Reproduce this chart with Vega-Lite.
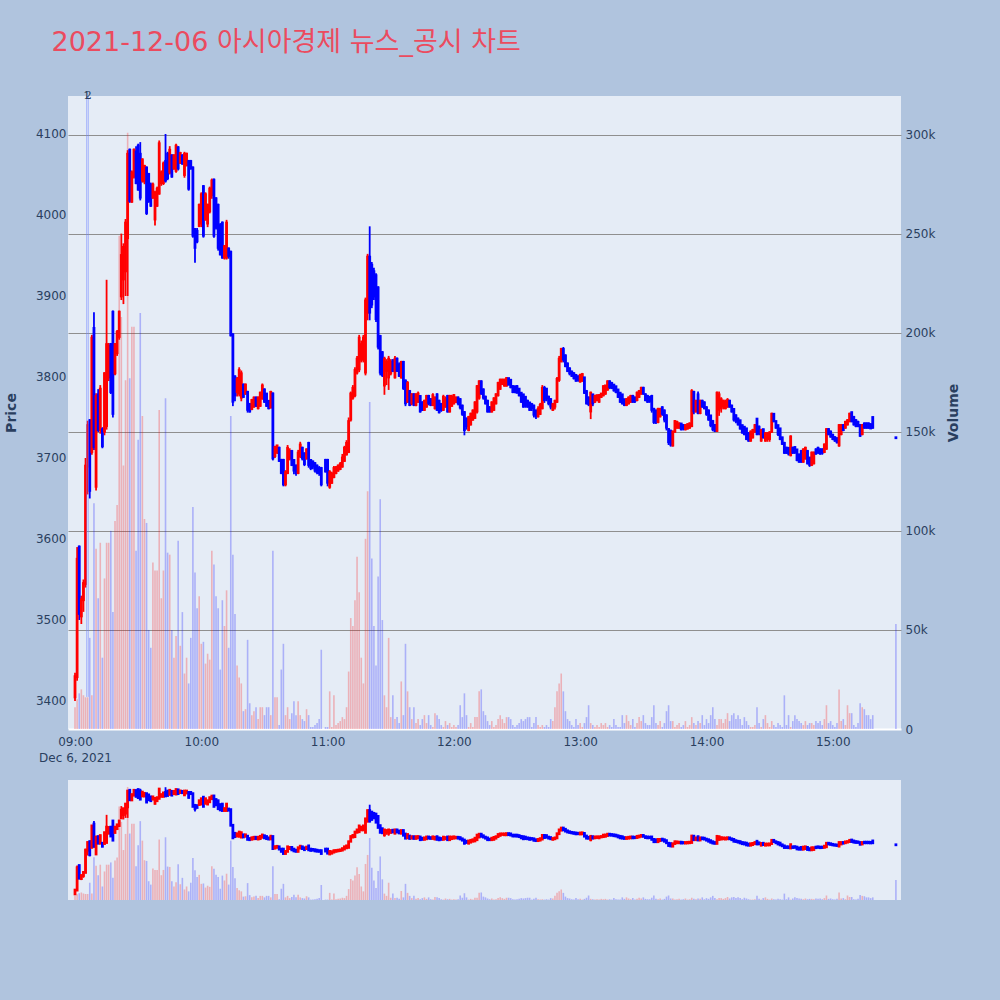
{
"$schema": "https://vega.github.io/schema/vega-lite/v6.json",
"background": "#B0C4DE",
"padding": {"left": 4, "top": 29, "right": 39, "bottom": 100},
"title": {"text": "2021-12-06 아시아경제 뉴스_공시 차트", "anchor": "start", "font": "DejaVu Sans, Noto Sans CJK KR", "fontSize": 27, "fontWeight": "normal", "color": "#EB4B5F", "dx": 47, "offset": 33},
"config": {
  "view": {"stroke": null, "fill": "#E5ECF6"},
  "axis": {"labelFont": "DejaVu Sans", "labelFontSize": 12, "labelColor": "#2a3f5f", "titleFont": "DejaVu Sans", "titleColor": "#2a3f5f", "titleFontSize": 14, "titleFontWeight": "bold"}
},
"spacing": 17,
"data": {"values": [
{"t":"2021-12-06T09:00","o":3405,"h":3435,"l":3400,"c":3430,"v":11000},
{"t":"2021-12-06T09:01","o":3430,"h":3590,"l":3425,"c":3575,"v":15000},
{"t":"2021-12-06T09:02","o":3590,"h":3592,"l":3500,"c":3508,"v":18000},
{"t":"2021-12-06T09:03","o":3505,"h":3530,"l":3495,"c":3525,"v":20000},
{"t":"2021-12-06T09:04","o":3525,"h":3550,"l":3510,"c":3545,"v":17000},
{"t":"2021-12-06T09:05","o":3545,"h":3700,"l":3540,"c":3690,"v":16000},
{"t":"2021-12-06T09:06","o":3690,"h":3746,"l":3655,"c":3740,"v":16000},
{"t":"2021-12-06T09:07","o":3746,"h":3748,"l":3650,"c":3660,"v":46000},
{"t":"2021-12-06T09:08","o":3708,"h":3852,"l":3704,"c":3848,"v":17000},
{"t":"2021-12-06T09:09","o":3860,"h":3880,"l":3710,"c":3714,"v":114000},
{"t":"2021-12-06T09:10","o":3665,"h":3780,"l":3660,"c":3776,"v":91000},
{"t":"2021-12-06T09:11","o":3778,"h":3785,"l":3732,"c":3735,"v":66000},
{"t":"2021-12-06T09:12","o":3735,"h":3790,"l":3730,"c":3785,"v":94000},
{"t":"2021-12-06T09:13","o":3735,"h":3738,"l":3712,"c":3715,"v":36000},
{"t":"2021-12-06T09:14","o":3733,"h":3806,"l":3728,"c":3804,"v":76000},
{"t":"2021-12-06T09:15","o":3740,"h":3920,"l":3735,"c":3840,"v":94000},
{"t":"2021-12-06T09:16","o":3800,"h":3842,"l":3795,"c":3838,"v":94000},
{"t":"2021-12-06T09:17","o":3840,"h":3842,"l":3779,"c":3782,"v":100000},
{"t":"2021-12-06T09:18","o":3880,"h":3882,"l":3750,"c":3755,"v":59000},
{"t":"2021-12-06T09:19","o":3805,"h":3842,"l":3802,"c":3840,"v":105000},
{"t":"2021-12-06T09:20","o":3830,"h":3858,"l":3826,"c":3855,"v":113000},
{"t":"2021-12-06T09:21","o":3850,"h":3882,"l":3846,"c":3880,"v":249000},
{"t":"2021-12-06T09:22","o":3900,"h":3977,"l":3895,"c":3950,"v":208000},
{"t":"2021-12-06T09:23","o":3921,"h":3965,"l":3890,"c":3960,"v":133000},
{"t":"2021-12-06T09:24","o":3931,"h":3995,"l":3900,"c":3990,"v":176000},
{"t":"2021-12-06T09:25","o":3972,"h":4080,"l":3900,"c":4075,"v":301000},
{"t":"2021-12-06T09:26","o":4080,"h":4082,"l":4015,"c":4018,"v":177000},
{"t":"2021-12-06T09:27","o":4017,"h":4055,"l":4015,"c":4052,"v":203000},
{"t":"2021-12-06T09:28","o":4048,"h":4082,"l":4045,"c":4080,"v":203000},
{"t":"2021-12-06T09:29","o":4078,"h":4085,"l":4038,"c":4040,"v":90000},
{"t":"2021-12-06T09:30","o":4085,"h":4088,"l":4030,"c":4032,"v":146000},
{"t":"2021-12-06T09:31","o":4075,"h":4090,"l":4018,"c":4022,"v":210000},
{"t":"2021-12-06T09:32","o":4043,"h":4070,"l":4040,"c":4068,"v":158000},
{"t":"2021-12-06T09:33","o":4042,"h":4062,"l":4038,"c":4060,"v":106000},
{"t":"2021-12-06T09:34","o":4058,"h":4060,"l":4000,"c":4003,"v":104000},
{"t":"2021-12-06T09:35","o":4050,"h":4052,"l":4015,"c":4018,"v":50000},
{"t":"2021-12-06T09:36","o":4037,"h":4040,"l":4010,"c":4012,"v":41000},
{"t":"2021-12-06T09:37","o":4022,"h":4040,"l":4020,"c":4037,"v":84000},
{"t":"2021-12-06T09:38","o":3995,"h":4030,"l":3987,"c":4027,"v":80000},
{"t":"2021-12-06T09:39","o":4012,"h":4035,"l":4010,"c":4032,"v":80000},
{"t":"2021-12-06T09:40","o":4027,"h":4092,"l":4025,"c":4088,"v":161000},
{"t":"2021-12-06T09:41","o":4040,"h":4055,"l":4036,"c":4052,"v":66000},
{"t":"2021-12-06T09:42","o":4040,"h":4066,"l":4037,"c":4063,"v":80000},
{"t":"2021-12-06T09:43","o":4066,"h":4100,"l":4040,"c":4043,"v":167000},
{"t":"2021-12-06T09:44","o":4075,"h":4078,"l":4043,"c":4046,"v":89000},
{"t":"2021-12-06T09:45","o":4053,"h":4085,"l":4050,"c":4080,"v":88000},
{"t":"2021-12-06T09:46","o":4073,"h":4075,"l":4046,"c":4048,"v":50000},
{"t":"2021-12-06T09:47","o":4058,"h":4075,"l":4056,"c":4073,"v":36000},
{"t":"2021-12-06T09:48","o":4055,"h":4088,"l":4052,"c":4085,"v":47000},
{"t":"2021-12-06T09:49","o":4083,"h":4085,"l":4055,"c":4058,"v":95000},
{"t":"2021-12-06T09:50","o":4065,"h":4078,"l":4063,"c":4076,"v":42000},
{"t":"2021-12-06T09:51","o":4073,"h":4075,"l":4062,"c":4064,"v":59000},
{"t":"2021-12-06T09:52","o":4050,"h":4078,"l":4046,"c":4075,"v":28000},
{"t":"2021-12-06T09:53","o":4062,"h":4077,"l":4060,"c":4075,"v":36000},
{"t":"2021-12-06T09:54","o":4066,"h":4068,"l":4030,"c":4033,"v":23000},
{"t":"2021-12-06T09:55","o":4066,"h":4068,"l":4056,"c":4058,"v":46000},
{"t":"2021-12-06T09:56","o":4058,"h":4060,"l":3972,"c":3975,"v":112000},
{"t":"2021-12-06T09:57","o":3982,"h":3984,"l":3941,"c":3960,"v":79000},
{"t":"2021-12-06T09:58","o":3980,"h":3984,"l":3965,"c":3968,"v":61000},
{"t":"2021-12-06T09:59","o":3987,"h":4014,"l":3985,"c":4012,"v":67000},
{"t":"2021-12-06T10:00","o":3990,"h":4028,"l":3985,"c":4025,"v":43000},
{"t":"2021-12-06T10:01","o":4035,"h":4037,"l":3972,"c":3975,"v":44000},
{"t":"2021-12-06T10:02","o":3995,"h":4028,"l":3993,"c":4025,"v":33000},
{"t":"2021-12-06T10:03","o":3990,"h":4014,"l":3985,"c":4012,"v":38000},
{"t":"2021-12-06T10:04","o":4005,"h":4035,"l":4002,"c":4032,"v":35000},
{"t":"2021-12-06T10:05","o":4025,"h":4045,"l":4020,"c":4042,"v":90000},
{"t":"2021-12-06T10:06","o":4043,"h":4045,"l":3972,"c":3975,"v":83000},
{"t":"2021-12-06T10:07","o":4020,"h":4022,"l":3982,"c":3985,"v":67000},
{"t":"2021-12-06T10:08","o":4012,"h":4014,"l":3956,"c":3960,"v":61000},
{"t":"2021-12-06T10:09","o":3987,"h":3990,"l":3950,"c":3952,"v":30000},
{"t":"2021-12-06T10:10","o":3990,"h":3992,"l":3946,"c":3948,"v":65000},
{"t":"2021-12-06T10:11","o":3948,"h":3963,"l":3945,"c":3961,"v":52000},
{"t":"2021-12-06T10:12","o":3948,"h":3994,"l":3945,"c":3990,"v":70000},
{"t":"2021-12-06T10:13","o":3958,"h":3960,"l":3946,"c":3950,"v":41000},
{"t":"2021-12-06T10:14","o":3954,"h":3956,"l":3850,"c":3852,"v":158000},
{"t":"2021-12-06T10:15","o":3852,"h":3854,"l":3764,"c":3770,"v":88000},
{"t":"2021-12-06T10:16","o":3800,"h":3802,"l":3770,"c":3778,"v":58000},
{"t":"2021-12-06T10:17","o":3782,"h":3800,"l":3776,"c":3797,"v":32000},
{"t":"2021-12-06T10:18","o":3780,"h":3812,"l":3776,"c":3808,"v":26000},
{"t":"2021-12-06T10:19","o":3775,"h":3808,"l":3770,"c":3804,"v":23000},
{"t":"2021-12-06T10:20","o":3790,"h":3792,"l":3774,"c":3776,"v":9000},
{"t":"2021-12-06T10:21","o":3780,"h":3792,"l":3778,"c":3790,"v":10000},
{"t":"2021-12-06T10:22","o":3781,"h":3783,"l":3756,"c":3760,"v":45000},
{"t":"2021-12-06T10:23","o":3766,"h":3768,"l":3756,"c":3758,"v":13000},
{"t":"2021-12-06T10:24","o":3761,"h":3773,"l":3759,"c":3771,"v":7000},
{"t":"2021-12-06T10:25","o":3764,"h":3776,"l":3762,"c":3774,"v":9000},
{"t":"2021-12-06T10:26","o":3774,"h":3776,"l":3763,"c":3765,"v":11000},
{"t":"2021-12-06T10:27","o":3762,"h":3776,"l":3760,"c":3774,"v":5000},
{"t":"2021-12-06T10:28","o":3765,"h":3782,"l":3763,"c":3780,"v":11000},
{"t":"2021-12-06T10:29","o":3774,"h":3792,"l":3772,"c":3789,"v":11000},
{"t":"2021-12-06T10:30","o":3784,"h":3786,"l":3768,"c":3770,"v":7000},
{"t":"2021-12-06T10:31","o":3779,"h":3780,"l":3763,"c":3765,"v":11000},
{"t":"2021-12-06T10:32","o":3770,"h":3771,"l":3760,"c":3762,"v":11000},
{"t":"2021-12-06T10:33","o":3763,"h":3783,"l":3761,"c":3781,"v":7000},
{"t":"2021-12-06T10:34","o":3779,"h":3781,"l":3697,"c":3700,"v":90000},
{"t":"2021-12-06T10:35","o":3703,"h":3715,"l":3700,"c":3713,"v":16000},
{"t":"2021-12-06T10:36","o":3708,"h":3716,"l":3705,"c":3715,"v":16000},
{"t":"2021-12-06T10:37","o":3712,"h":3714,"l":3695,"c":3697,"v":2000},
{"t":"2021-12-06T10:38","o":3697,"h":3699,"l":3680,"c":3682,"v":30000},
{"t":"2021-12-06T10:39","o":3697,"h":3699,"l":3665,"c":3668,"v":43000},
{"t":"2021-12-06T10:40","o":3668,"h":3685,"l":3665,"c":3682,"v":7000},
{"t":"2021-12-06T10:41","o":3682,"h":3716,"l":3680,"c":3712,"v":11000},
{"t":"2021-12-06T10:42","o":3700,"h":3712,"l":3697,"c":3708,"v":5000},
{"t":"2021-12-06T10:43","o":3708,"h":3710,"l":3690,"c":3692,"v":8000},
{"t":"2021-12-06T10:44","o":3697,"h":3698,"l":3680,"c":3685,"v":14000},
{"t":"2021-12-06T10:45","o":3690,"h":3692,"l":3678,"c":3682,"v":7000},
{"t":"2021-12-06T10:46","o":3682,"h":3710,"l":3680,"c":3706,"v":14000},
{"t":"2021-12-06T10:47","o":3703,"h":3720,"l":3700,"c":3716,"v":7000},
{"t":"2021-12-06T10:48","o":3712,"h":3714,"l":3697,"c":3700,"v":5000},
{"t":"2021-12-06T10:49","o":3705,"h":3707,"l":3690,"c":3693,"v":4000},
{"t":"2021-12-06T10:50","o":3700,"h":3712,"l":3698,"c":3710,"v":10000},
{"t":"2021-12-06T10:51","o":3718,"h":3720,"l":3688,"c":3692,"v":7000},
{"t":"2021-12-06T10:52","o":3697,"h":3698,"l":3685,"c":3688,"v":1000},
{"t":"2021-12-06T10:53","o":3695,"h":3697,"l":3686,"c":3690,"v":1000},
{"t":"2021-12-06T10:54","o":3693,"h":3695,"l":3682,"c":3685,"v":2000},
{"t":"2021-12-06T10:55","o":3690,"h":3692,"l":3680,"c":3683,"v":3000},
{"t":"2021-12-06T10:56","o":3687,"h":3690,"l":3678,"c":3682,"v":5000},
{"t":"2021-12-06T10:57","o":3687,"h":3689,"l":3665,"c":3668,"v":40000},
{"t":"2021-12-06T10:59","o":3697,"h":3699,"l":3682,"c":3684,"v":1000},
{"t":"2021-12-06T11:00","o":3697,"h":3699,"l":3665,"c":3670,"v":1000},
{"t":"2021-12-06T11:01","o":3665,"h":3685,"l":3662,"c":3682,"v":19000},
{"t":"2021-12-06T11:02","o":3670,"h":3683,"l":3668,"c":3680,"v":1000},
{"t":"2021-12-06T11:03","o":3677,"h":3690,"l":3675,"c":3687,"v":17000},
{"t":"2021-12-06T11:04","o":3682,"h":3690,"l":3680,"c":3688,"v":2000},
{"t":"2021-12-06T11:05","o":3685,"h":3692,"l":3683,"c":3690,"v":3000},
{"t":"2021-12-06T11:06","o":3687,"h":3695,"l":3685,"c":3692,"v":4000},
{"t":"2021-12-06T11:07","o":3690,"h":3705,"l":3688,"c":3700,"v":6000},
{"t":"2021-12-06T11:08","o":3697,"h":3715,"l":3695,"c":3712,"v":5000},
{"t":"2021-12-06T11:09","o":3705,"h":3722,"l":3703,"c":3718,"v":11000},
{"t":"2021-12-06T11:10","o":3708,"h":3750,"l":3706,"c":3745,"v":29000},
{"t":"2021-12-06T11:11","o":3748,"h":3782,"l":3745,"c":3779,"v":56000},
{"t":"2021-12-06T11:12","o":3775,"h":3790,"l":3772,"c":3786,"v":52000},
{"t":"2021-12-06T11:13","o":3778,"h":3812,"l":3775,"c":3808,"v":65000},
{"t":"2021-12-06T11:14","o":3806,"h":3826,"l":3803,"c":3822,"v":87000},
{"t":"2021-12-06T11:15","o":3810,"h":3852,"l":3806,"c":3848,"v":69000},
{"t":"2021-12-06T11:16","o":3822,"h":3845,"l":3818,"c":3840,"v":36000},
{"t":"2021-12-06T11:17","o":3822,"h":3852,"l":3818,"c":3848,"v":23000},
{"t":"2021-12-06T11:18","o":3806,"h":3898,"l":3802,"c":3894,"v":96000},
{"t":"2021-12-06T11:19","o":3880,"h":3952,"l":3870,"c":3948,"v":120000},
{"t":"2021-12-06T11:20","o":3948,"h":3986,"l":3870,"c":3880,"v":165000},
{"t":"2021-12-06T11:21","o":3938,"h":3942,"l":3885,"c":3890,"v":86000},
{"t":"2021-12-06T11:22","o":3930,"h":3935,"l":3895,"c":3900,"v":52000},
{"t":"2021-12-06T11:23","o":3925,"h":3928,"l":3868,"c":3872,"v":32000},
{"t":"2021-12-06T11:24","o":3910,"h":3912,"l":3834,"c":3838,"v":77000},
{"t":"2021-12-06T11:25","o":3850,"h":3852,"l":3802,"c":3806,"v":116000},
{"t":"2021-12-06T11:26","o":3830,"h":3832,"l":3800,"c":3803,"v":55000},
{"t":"2021-12-06T11:27","o":3790,"h":3825,"l":3778,"c":3822,"v":17000},
{"t":"2021-12-06T11:28","o":3808,"h":3822,"l":3790,"c":3818,"v":11000},
{"t":"2021-12-06T11:29","o":3800,"h":3826,"l":3784,"c":3822,"v":46000},
{"t":"2021-12-06T11:30","o":3805,"h":3822,"l":3802,"c":3818,"v":6000},
{"t":"2021-12-06T11:31","o":3820,"h":3822,"l":3806,"c":3808,"v":17000},
{"t":"2021-12-06T11:32","o":3800,"h":3826,"l":3798,"c":3822,"v":5000},
{"t":"2021-12-06T11:33","o":3822,"h":3824,"l":3806,"c":3808,"v":6000},
{"t":"2021-12-06T11:34","o":3815,"h":3818,"l":3800,"c":3802,"v":3000},
{"t":"2021-12-06T11:35","o":3800,"h":3820,"l":3798,"c":3818,"v":24000},
{"t":"2021-12-06T11:36","o":3818,"h":3820,"l":3784,"c":3787,"v":7000},
{"t":"2021-12-06T11:37","o":3795,"h":3797,"l":3764,"c":3768,"v":43000},
{"t":"2021-12-06T11:38","o":3770,"h":3795,"l":3768,"c":3792,"v":19000},
{"t":"2021-12-06T11:39","o":3782,"h":3784,"l":3764,"c":3766,"v":11000},
{"t":"2021-12-06T11:40","o":3768,"h":3780,"l":3765,"c":3778,"v":5000},
{"t":"2021-12-06T11:41","o":3778,"h":3780,"l":3764,"c":3766,"v":11000},
{"t":"2021-12-06T11:42","o":3766,"h":3780,"l":3764,"c":3778,"v":3000},
{"t":"2021-12-06T11:43","o":3770,"h":3782,"l":3768,"c":3779,"v":5000},
{"t":"2021-12-06T11:44","o":3776,"h":3777,"l":3756,"c":3758,"v":2000},
{"t":"2021-12-06T11:45","o":3768,"h":3770,"l":3758,"c":3760,"v":5000},
{"t":"2021-12-06T11:46","o":3760,"h":3772,"l":3758,"c":3770,"v":7000},
{"t":"2021-12-06T11:47","o":3764,"h":3778,"l":3762,"c":3776,"v":3000},
{"t":"2021-12-06T11:48","o":3776,"h":3778,"l":3765,"c":3768,"v":7000},
{"t":"2021-12-06T11:49","o":3772,"h":3774,"l":3764,"c":3766,"v":2000},
{"t":"2021-12-06T11:50","o":3766,"h":3780,"l":3764,"c":3777,"v":1000},
{"t":"2021-12-06T11:51","o":3762,"h":3776,"l":3760,"c":3774,"v":8000},
{"t":"2021-12-06T11:52","o":3778,"h":3780,"l":3758,"c":3760,"v":7000},
{"t":"2021-12-06T11:53","o":3770,"h":3772,"l":3755,"c":3757,"v":5000},
{"t":"2021-12-06T11:54","o":3766,"h":3768,"l":3757,"c":3760,"v":2000},
{"t":"2021-12-06T11:55","o":3760,"h":3778,"l":3758,"c":3775,"v":1000},
{"t":"2021-12-06T11:56","o":3764,"h":3776,"l":3762,"c":3772,"v":4000},
{"t":"2021-12-06T11:57","o":3776,"h":3778,"l":3756,"c":3758,"v":2000},
{"t":"2021-12-06T11:58","o":3758,"h":3778,"l":3756,"c":3776,"v":3000},
{"t":"2021-12-06T11:59","o":3765,"h":3778,"l":3763,"c":3775,"v":1000},
{"t":"2021-12-06T12:00","o":3768,"h":3779,"l":3766,"c":3777,"v":2000},
{"t":"2021-12-06T12:01","o":3770,"h":3776,"l":3768,"c":3774,"v":1000},
{"t":"2021-12-06T12:02","o":3774,"h":3776,"l":3765,"c":3768,"v":2000},
{"t":"2021-12-06T12:03","o":3772,"h":3774,"l":3760,"c":3763,"v":12000},
{"t":"2021-12-06T12:04","o":3764,"h":3766,"l":3752,"c":3755,"v":6000},
{"t":"2021-12-06T12:05","o":3756,"h":3758,"l":3728,"c":3735,"v":18000},
{"t":"2021-12-06T12:06","o":3748,"h":3750,"l":3735,"c":3740,"v":7000},
{"t":"2021-12-06T12:07","o":3735,"h":3752,"l":3733,"c":3750,"v":1000},
{"t":"2021-12-06T12:08","o":3742,"h":3756,"l":3740,"c":3754,"v":3000},
{"t":"2021-12-06T12:09","o":3748,"h":3760,"l":3746,"c":3758,"v":1000},
{"t":"2021-12-06T12:10","o":3750,"h":3770,"l":3748,"c":3768,"v":6000},
{"t":"2021-12-06T12:11","o":3758,"h":3790,"l":3755,"c":3788,"v":6000},
{"t":"2021-12-06T12:12","o":3775,"h":3796,"l":3772,"c":3794,"v":19000},
{"t":"2021-12-06T12:13","o":3794,"h":3796,"l":3778,"c":3780,"v":20000},
{"t":"2021-12-06T12:14","o":3784,"h":3786,"l":3772,"c":3775,"v":9000},
{"t":"2021-12-06T12:15","o":3775,"h":3777,"l":3766,"c":3768,"v":7000},
{"t":"2021-12-06T12:16","o":3770,"h":3772,"l":3756,"c":3758,"v":4000},
{"t":"2021-12-06T12:17","o":3762,"h":3764,"l":3756,"c":3758,"v":2000},
{"t":"2021-12-06T12:18","o":3758,"h":3770,"l":3756,"c":3768,"v":4000},
{"t":"2021-12-06T12:19","o":3760,"h":3775,"l":3758,"c":3773,"v":1000},
{"t":"2021-12-06T12:20","o":3768,"h":3780,"l":3766,"c":3778,"v":2000},
{"t":"2021-12-06T12:21","o":3778,"h":3794,"l":3776,"c":3792,"v":5000},
{"t":"2021-12-06T12:22","o":3786,"h":3798,"l":3784,"c":3796,"v":7000},
{"t":"2021-12-06T12:23","o":3792,"h":3798,"l":3790,"c":3796,"v":5000},
{"t":"2021-12-06T12:24","o":3790,"h":3798,"l":3788,"c":3796,"v":3000},
{"t":"2021-12-06T12:25","o":3790,"h":3800,"l":3788,"c":3798,"v":6000},
{"t":"2021-12-06T12:26","o":3798,"h":3799,"l":3790,"c":3791,"v":6000},
{"t":"2021-12-06T12:27","o":3796,"h":3797,"l":3786,"c":3788,"v":5000},
{"t":"2021-12-06T12:28","o":3788,"h":3790,"l":3780,"c":3782,"v":2000},
{"t":"2021-12-06T12:29","o":3788,"h":3789,"l":3780,"c":3782,"v":1000},
{"t":"2021-12-06T12:30","o":3788,"h":3790,"l":3780,"c":3781,"v":2000},
{"t":"2021-12-06T12:31","o":3785,"h":3786,"l":3776,"c":3778,"v":3000},
{"t":"2021-12-06T12:32","o":3780,"h":3781,"l":3768,"c":3770,"v":5000},
{"t":"2021-12-06T12:33","o":3778,"h":3779,"l":3762,"c":3764,"v":4000},
{"t":"2021-12-06T12:34","o":3775,"h":3776,"l":3762,"c":3765,"v":5000},
{"t":"2021-12-06T12:35","o":3770,"h":3772,"l":3762,"c":3764,"v":6000},
{"t":"2021-12-06T12:36","o":3768,"h":3769,"l":3758,"c":3760,"v":6000},
{"t":"2021-12-06T12:37","o":3766,"h":3768,"l":3758,"c":3762,"v":1000},
{"t":"2021-12-06T12:38","o":3764,"h":3766,"l":3750,"c":3754,"v":3000},
{"t":"2021-12-06T12:39","o":3758,"h":3760,"l":3748,"c":3752,"v":6000},
{"t":"2021-12-06T12:40","o":3752,"h":3764,"l":3750,"c":3760,"v":2000},
{"t":"2021-12-06T12:41","o":3755,"h":3768,"l":3753,"c":3765,"v":1000},
{"t":"2021-12-06T12:42","o":3762,"h":3790,"l":3760,"c":3786,"v":2000},
{"t":"2021-12-06T12:43","o":3786,"h":3789,"l":3768,"c":3772,"v":1000},
{"t":"2021-12-06T12:44","o":3785,"h":3786,"l":3770,"c":3774,"v":2000},
{"t":"2021-12-06T12:45","o":3775,"h":3777,"l":3765,"c":3768,"v":1000},
{"t":"2021-12-06T12:46","o":3772,"h":3774,"l":3760,"c":3764,"v":5000},
{"t":"2021-12-06T12:47","o":3760,"h":3768,"l":3758,"c":3766,"v":4000},
{"t":"2021-12-06T12:48","o":3764,"h":3772,"l":3760,"c":3770,"v":11000},
{"t":"2021-12-06T12:49","o":3770,"h":3800,"l":3768,"c":3797,"v":19000},
{"t":"2021-12-06T12:50","o":3797,"h":3826,"l":3794,"c":3822,"v":23000},
{"t":"2021-12-06T12:51","o":3820,"h":3836,"l":3818,"c":3834,"v":28000},
{"t":"2021-12-06T12:52","o":3834,"h":3837,"l":3818,"c":3822,"v":19000},
{"t":"2021-12-06T12:53","o":3826,"h":3828,"l":3812,"c":3814,"v":9000},
{"t":"2021-12-06T12:54","o":3816,"h":3818,"l":3806,"c":3808,"v":5000},
{"t":"2021-12-06T12:55","o":3810,"h":3812,"l":3802,"c":3805,"v":4000},
{"t":"2021-12-06T12:56","o":3806,"h":3808,"l":3800,"c":3802,"v":2000},
{"t":"2021-12-06T12:57","o":3804,"h":3806,"l":3797,"c":3799,"v":1000},
{"t":"2021-12-06T12:58","o":3802,"h":3803,"l":3794,"c":3796,"v":5000},
{"t":"2021-12-06T12:59","o":3800,"h":3802,"l":3794,"c":3797,"v":2000},
{"t":"2021-12-06T13:00","o":3795,"h":3804,"l":3793,"c":3802,"v":3000},
{"t":"2021-12-06T13:01","o":3796,"h":3805,"l":3794,"c":3803,"v":1000},
{"t":"2021-12-06T13:02","o":3799,"h":3800,"l":3779,"c":3781,"v":3000},
{"t":"2021-12-06T13:03","o":3782,"h":3784,"l":3766,"c":3768,"v":6000},
{"t":"2021-12-06T13:04","o":3774,"h":3776,"l":3764,"c":3767,"v":12000},
{"t":"2021-12-06T13:05","o":3758,"h":3782,"l":3748,"c":3780,"v":3000},
{"t":"2021-12-06T13:06","o":3778,"h":3779,"l":3764,"c":3768,"v":2000},
{"t":"2021-12-06T13:07","o":3770,"h":3778,"l":3768,"c":3776,"v":1000},
{"t":"2021-12-06T13:08","o":3772,"h":3778,"l":3770,"c":3777,"v":2000},
{"t":"2021-12-06T13:09","o":3770,"h":3779,"l":3768,"c":3777,"v":1000},
{"t":"2021-12-06T13:10","o":3776,"h":3780,"l":3774,"c":3779,"v":3000},
{"t":"2021-12-06T13:11","o":3778,"h":3790,"l":3776,"c":3788,"v":2000},
{"t":"2021-12-06T13:12","o":3780,"h":3790,"l":3778,"c":3789,"v":3000},
{"t":"2021-12-06T13:13","o":3785,"h":3796,"l":3783,"c":3794,"v":1000},
{"t":"2021-12-06T13:14","o":3794,"h":3796,"l":3785,"c":3788,"v":2000},
{"t":"2021-12-06T13:15","o":3792,"h":3794,"l":3785,"c":3787,"v":1000},
{"t":"2021-12-06T13:16","o":3790,"h":3791,"l":3782,"c":3784,"v":5000},
{"t":"2021-12-06T13:17","o":3788,"h":3789,"l":3780,"c":3782,"v":2000},
{"t":"2021-12-06T13:18","o":3784,"h":3785,"l":3774,"c":3776,"v":1000},
{"t":"2021-12-06T13:19","o":3780,"h":3781,"l":3768,"c":3770,"v":1000},
{"t":"2021-12-06T13:20","o":3778,"h":3779,"l":3766,"c":3768,"v":7000},
{"t":"2021-12-06T13:21","o":3772,"h":3773,"l":3764,"c":3766,"v":3000},
{"t":"2021-12-06T13:22","o":3766,"h":3774,"l":3764,"c":3772,"v":7000},
{"t":"2021-12-06T13:23","o":3768,"h":3776,"l":3766,"c":3774,"v":4000},
{"t":"2021-12-06T13:24","o":3770,"h":3778,"l":3768,"c":3776,"v":2000},
{"t":"2021-12-06T13:25","o":3776,"h":3778,"l":3768,"c":3770,"v":5000},
{"t":"2021-12-06T13:26","o":3774,"h":3776,"l":3768,"c":3771,"v":1000},
{"t":"2021-12-06T13:27","o":3772,"h":3782,"l":3770,"c":3780,"v":3000},
{"t":"2021-12-06T13:28","o":3776,"h":3784,"l":3774,"c":3782,"v":6000},
{"t":"2021-12-06T13:29","o":3780,"h":3788,"l":3778,"c":3786,"v":4000},
{"t":"2021-12-06T13:30","o":3786,"h":3788,"l":3778,"c":3780,"v":7000},
{"t":"2021-12-06T13:31","o":3778,"h":3780,"l":3770,"c":3772,"v":3000},
{"t":"2021-12-06T13:32","o":3776,"h":3778,"l":3768,"c":3770,"v":2000},
{"t":"2021-12-06T13:33","o":3775,"h":3776,"l":3768,"c":3771,"v":2000},
{"t":"2021-12-06T13:34","o":3776,"h":3778,"l":3756,"c":3760,"v":6000},
{"t":"2021-12-06T13:35","o":3760,"h":3762,"l":3742,"c":3745,"v":12000},
{"t":"2021-12-06T13:36","o":3758,"h":3760,"l":3742,"c":3745,"v":3000},
{"t":"2021-12-06T13:37","o":3745,"h":3762,"l":3743,"c":3760,"v":2000},
{"t":"2021-12-06T13:38","o":3752,"h":3762,"l":3750,"c":3760,"v":4000},
{"t":"2021-12-06T13:39","o":3762,"h":3764,"l":3752,"c":3755,"v":1000},
{"t":"2021-12-06T13:40","o":3758,"h":3760,"l":3744,"c":3748,"v":3000},
{"t":"2021-12-06T13:41","o":3752,"h":3754,"l":3734,"c":3738,"v":9000},
{"t":"2021-12-06T13:42","o":3735,"h":3737,"l":3716,"c":3720,"v":12000},
{"t":"2021-12-06T13:43","o":3733,"h":3735,"l":3714,"c":3717,"v":4000},
{"t":"2021-12-06T13:44","o":3716,"h":3734,"l":3714,"c":3732,"v":4000},
{"t":"2021-12-06T13:45","o":3733,"h":3747,"l":3731,"c":3745,"v":1000},
{"t":"2021-12-06T13:46","o":3738,"h":3746,"l":3736,"c":3744,"v":2000},
{"t":"2021-12-06T13:47","o":3738,"h":3744,"l":3736,"c":3742,"v":3000},
{"t":"2021-12-06T13:48","o":3742,"h":3743,"l":3734,"c":3736,"v":1000},
{"t":"2021-12-06T13:49","o":3740,"h":3742,"l":3734,"c":3737,"v":2000},
{"t":"2021-12-06T13:50","o":3736,"h":3742,"l":3734,"c":3740,"v":4000},
{"t":"2021-12-06T13:51","o":3737,"h":3743,"l":3735,"c":3741,"v":1000},
{"t":"2021-12-06T13:52","o":3738,"h":3744,"l":3736,"c":3742,"v":2000},
{"t":"2021-12-06T13:53","o":3740,"h":3785,"l":3738,"c":3782,"v":6000},
{"t":"2021-12-06T13:54","o":3781,"h":3783,"l":3754,"c":3758,"v":3000},
{"t":"2021-12-06T13:55","o":3758,"h":3772,"l":3756,"c":3770,"v":2000},
{"t":"2021-12-06T13:56","o":3778,"h":3782,"l":3754,"c":3756,"v":4000},
{"t":"2021-12-06T13:57","o":3756,"h":3772,"l":3754,"c":3770,"v":3000},
{"t":"2021-12-06T13:58","o":3770,"h":3772,"l":3762,"c":3764,"v":7000},
{"t":"2021-12-06T13:59","o":3768,"h":3770,"l":3760,"c":3762,"v":2000},
{"t":"2021-12-06T14:00","o":3762,"h":3764,"l":3752,"c":3755,"v":5000},
{"t":"2021-12-06T14:01","o":3758,"h":3760,"l":3746,"c":3748,"v":3000},
{"t":"2021-12-06T14:02","o":3752,"h":3753,"l":3738,"c":3741,"v":7000},
{"t":"2021-12-06T14:03","o":3745,"h":3747,"l":3733,"c":3736,"v":11000},
{"t":"2021-12-06T14:04","o":3740,"h":3742,"l":3732,"c":3734,"v":5000},
{"t":"2021-12-06T14:05","o":3734,"h":3782,"l":3732,"c":3780,"v":2000},
{"t":"2021-12-06T14:06","o":3760,"h":3782,"l":3752,"c":3778,"v":5000},
{"t":"2021-12-06T14:07","o":3762,"h":3775,"l":3756,"c":3772,"v":5000},
{"t":"2021-12-06T14:08","o":3764,"h":3772,"l":3760,"c":3770,"v":3000},
{"t":"2021-12-06T14:09","o":3762,"h":3772,"l":3760,"c":3769,"v":5000},
{"t":"2021-12-06T14:10","o":3764,"h":3774,"l":3762,"c":3771,"v":8000},
{"t":"2021-12-06T14:11","o":3770,"h":3772,"l":3762,"c":3764,"v":4000},
{"t":"2021-12-06T14:12","o":3764,"h":3766,"l":3756,"c":3758,"v":7000},
{"t":"2021-12-06T14:13","o":3760,"h":3761,"l":3745,"c":3748,"v":8000},
{"t":"2021-12-06T14:14","o":3752,"h":3754,"l":3743,"c":3746,"v":5000},
{"t":"2021-12-06T14:15","o":3748,"h":3750,"l":3740,"c":3742,"v":7000},
{"t":"2021-12-06T14:16","o":3746,"h":3747,"l":3735,"c":3737,"v":5000},
{"t":"2021-12-06T14:17","o":3740,"h":3741,"l":3730,"c":3732,"v":2000},
{"t":"2021-12-06T14:18","o":3738,"h":3739,"l":3728,"c":3730,"v":6000},
{"t":"2021-12-06T14:19","o":3736,"h":3737,"l":3722,"c":3724,"v":4000},
{"t":"2021-12-06T14:20","o":3730,"h":3732,"l":3720,"c":3722,"v":2000},
{"t":"2021-12-06T14:21","o":3722,"h":3734,"l":3720,"c":3732,"v":1000},
{"t":"2021-12-06T14:22","o":3726,"h":3736,"l":3724,"c":3734,"v":1000},
{"t":"2021-12-06T14:23","o":3733,"h":3742,"l":3731,"c":3740,"v":2000},
{"t":"2021-12-06T14:24","o":3748,"h":3749,"l":3728,"c":3730,"v":11000},
{"t":"2021-12-06T14:25","o":3738,"h":3740,"l":3728,"c":3731,"v":3000},
{"t":"2021-12-06T14:26","o":3722,"h":3736,"l":3720,"c":3734,"v":1000},
{"t":"2021-12-06T14:27","o":3735,"h":3736,"l":3724,"c":3726,"v":5000},
{"t":"2021-12-06T14:28","o":3722,"h":3732,"l":3720,"c":3730,"v":7000},
{"t":"2021-12-06T14:29","o":3724,"h":3732,"l":3720,"c":3730,"v":3000},
{"t":"2021-12-06T14:30","o":3724,"h":3733,"l":3720,"c":3731,"v":1000},
{"t":"2021-12-06T14:31","o":3733,"h":3756,"l":3731,"c":3754,"v":4000},
{"t":"2021-12-06T14:32","o":3754,"h":3755,"l":3744,"c":3746,"v":2000},
{"t":"2021-12-06T14:33","o":3745,"h":3746,"l":3736,"c":3738,"v":1000},
{"t":"2021-12-06T14:34","o":3740,"h":3741,"l":3727,"c":3730,"v":3000},
{"t":"2021-12-06T14:35","o":3736,"h":3737,"l":3722,"c":3724,"v":2000},
{"t":"2021-12-06T14:36","o":3725,"h":3726,"l":3716,"c":3718,"v":1000},
{"t":"2021-12-06T14:37","o":3718,"h":3720,"l":3705,"c":3707,"v":17000},
{"t":"2021-12-06T14:38","o":3712,"h":3714,"l":3705,"c":3707,"v":2000},
{"t":"2021-12-06T14:39","o":3712,"h":3713,"l":3703,"c":3706,"v":7000},
{"t":"2021-12-06T14:40","o":3704,"h":3728,"l":3702,"c":3726,"v":1000},
{"t":"2021-12-06T14:41","o":3712,"h":3714,"l":3705,"c":3707,"v":4000},
{"t":"2021-12-06T14:42","o":3713,"h":3714,"l":3705,"c":3708,"v":7000},
{"t":"2021-12-06T14:43","o":3710,"h":3711,"l":3696,"c":3698,"v":5000},
{"t":"2021-12-06T14:44","o":3704,"h":3705,"l":3694,"c":3696,"v":4000},
{"t":"2021-12-06T14:45","o":3708,"h":3710,"l":3694,"c":3696,"v":3000},
{"t":"2021-12-06T14:46","o":3696,"h":3712,"l":3694,"c":3710,"v":2000},
{"t":"2021-12-06T14:47","o":3700,"h":3714,"l":3698,"c":3712,"v":4000},
{"t":"2021-12-06T14:48","o":3708,"h":3710,"l":3692,"c":3694,"v":2000},
{"t":"2021-12-06T14:49","o":3700,"h":3701,"l":3689,"c":3692,"v":3000},
{"t":"2021-12-06T14:50","o":3692,"h":3708,"l":3690,"c":3706,"v":3000},
{"t":"2021-12-06T14:51","o":3694,"h":3708,"l":3692,"c":3706,"v":2000},
{"t":"2021-12-06T14:52","o":3710,"h":3712,"l":3704,"c":3706,"v":4000},
{"t":"2021-12-06T14:53","o":3712,"h":3714,"l":3705,"c":3708,"v":3000},
{"t":"2021-12-06T14:54","o":3710,"h":3712,"l":3704,"c":3706,"v":4000},
{"t":"2021-12-06T14:55","o":3710,"h":3712,"l":3704,"c":3707,"v":2000},
{"t":"2021-12-06T14:56","o":3708,"h":3718,"l":3706,"c":3716,"v":5000},
{"t":"2021-12-06T14:57","o":3712,"h":3737,"l":3710,"c":3735,"v":12000},
{"t":"2021-12-06T14:58","o":3735,"h":3737,"l":3728,"c":3730,"v":3000},
{"t":"2021-12-06T14:59","o":3732,"h":3734,"l":3725,"c":3727,"v":4000},
{"t":"2021-12-06T15:00","o":3728,"h":3730,"l":3722,"c":3724,"v":2000},
{"t":"2021-12-06T15:01","o":3725,"h":3727,"l":3720,"c":3722,"v":1000},
{"t":"2021-12-06T15:02","o":3724,"h":3725,"l":3718,"c":3720,"v":3000},
{"t":"2021-12-06T15:03","o":3716,"h":3742,"l":3714,"c":3740,"v":20000},
{"t":"2021-12-06T15:04","o":3730,"h":3742,"l":3728,"c":3740,"v":4000},
{"t":"2021-12-06T15:05","o":3740,"h":3742,"l":3733,"c":3735,"v":5000},
{"t":"2021-12-06T15:06","o":3738,"h":3746,"l":3736,"c":3744,"v":2000},
{"t":"2021-12-06T15:07","o":3742,"h":3748,"l":3740,"c":3746,"v":12000},
{"t":"2021-12-06T15:08","o":3746,"h":3756,"l":3744,"c":3754,"v":8000},
{"t":"2021-12-06T15:09","o":3756,"h":3757,"l":3744,"c":3746,"v":8000},
{"t":"2021-12-06T15:10","o":3750,"h":3752,"l":3740,"c":3742,"v":2000},
{"t":"2021-12-06T15:11","o":3746,"h":3748,"l":3738,"c":3740,"v":1000},
{"t":"2021-12-06T15:12","o":3744,"h":3746,"l":3738,"c":3740,"v":3000},
{"t":"2021-12-06T15:13","o":3740,"h":3742,"l":3726,"c":3728,"v":13000},
{"t":"2021-12-06T15:14","o":3730,"h":3742,"l":3728,"c":3740,"v":11000},
{"t":"2021-12-06T15:15","o":3742,"h":3744,"l":3736,"c":3738,"v":10000},
{"t":"2021-12-06T15:16","o":3742,"h":3744,"l":3736,"c":3738,"v":7000},
{"t":"2021-12-06T15:17","o":3742,"h":3744,"l":3736,"c":3738,"v":7000},
{"t":"2021-12-06T15:18","o":3741,"h":3743,"l":3736,"c":3737,"v":5000},
{"t":"2021-12-06T15:19","o":3750,"h":3751,"l":3736,"c":3738,"v":7000},
{"t":"2021-12-06T15:30","o":3725,"h":3725,"l":3725,"c":3725,"v":53000}
]},
"vconcat": [
{
  "width": 833, "height": 633,
  "encoding": {
    "x": {"field": "t", "type": "temporal",
      "scale": {"nice": false, "padding": 0, "domain": [{"year": 2021, "month": 12, "date": 6, "hours": 8, "minutes": 56, "seconds": 40}, {"year": 2021, "month": 12, "date": 6, "hours": 15, "minutes": 32, "seconds": 25}]},
      "axis": {"title": null, "grid": false, "domain": false, "ticks": false, "labelPadding": 7, "labelFlush": false, "labelOverlap": false, "labelBound": false, "labelLineHeight": 16, "format": "%H:%M", "formatType": "time",
        "values": [{"year": 2021, "month": 12, "date": 6, "hours": 9}, {"year": 2021, "month": 12, "date": 6, "hours": 10}, {"year": 2021, "month": 12, "date": 6, "hours": 11}, {"year": 2021, "month": 12, "date": 6, "hours": 12}, {"year": 2021, "month": 12, "date": 6, "hours": 13}, {"year": 2021, "month": 12, "date": 6, "hours": 14}, {"year": 2021, "month": 12, "date": 6, "hours": 15}],
        "labelExpr": "hours(datum.value) == 9 ? [datum.label, 'Dec 6, 2021'] : datum.label"}},
    "color": {"condition": {"test": "datum.c > datum.o", "value": "#ff0000"}, "value": "#0000ff"}
  },
  "layer": [
    {
      "mark": {"type": "bar", "width": 1.6, "opacity": 0.25},
      "encoding": {
        "y": {"field": "v", "type": "quantitative", "scale": {"domain": [0, 319500], "nice": false},
          "axis": {"orient": "right", "title": "Volume", "titleAngle": 270, "titlePadding": 26, "values": [0, 50000, 100000, 150000, 200000, 250000, 300000], "labelExpr": "datum.value == 0 ? '0' : (datum.value / 1000) + 'k'", "domain": false, "ticks": false, "labelPadding": 4,
            "gridColor": {"condition": {"test": "datum.value === 0", "value": "#ffffff"}, "value": "#8f8f8f"},
            "gridWidth": {"condition": {"test": "datum.value === 0", "value": 2}, "value": 1}}}
      }
    },
    {
      "mark": {"type": "rule", "strokeWidth": 1.8},
      "encoding": {
        "y": {"field": "l", "type": "quantitative", "scale": {"domain": [3365.4, 4146.9], "nice": false, "zero": false},
          "axis": {"orient": "left", "title": "Price", "titlePadding": 17, "values": [3400, 3500, 3600, 3700, 3800, 3900, 4000, 4100], "format": "d", "gridColor": "#ffffff", "gridWidth": 1, "domain": false, "ticks": false, "labelPadding": 2}},
        "y2": {"field": "h"}
      }
    },
    {
      "mark": {"type": "rule", "strokeWidth": 2.8, "strokeCap": "square"},
      "encoding": {
        "y": {"field": "o", "type": "quantitative", "scale": {"domain": [3365.4, 4146.9], "nice": false, "zero": false}, "axis": null},
        "y2": {"field": "c"}
      }
    },
    {
      "data": {"values": [{"t": "2021-12-06T09:05:33", "n": "1"}, {"t": "2021-12-06T09:06:18", "n": "2"}]},
      "mark": {"type": "rule", "strokeWidth": 1, "opacity": 0.55},
      "encoding": {
        "y": {"datum": 3405, "type": "quantitative", "scale": {"domain": [3365.4, 4146.9], "nice": false, "zero": false}, "axis": null},
        "y2": {"datum": 4146.9},
        "color": {"value": "#6f84ff"}
      }
    },
    {
      "data": {"values": [{"t": "2021-12-06T09:05:33", "n": "1"}, {"t": "2021-12-06T09:06:18", "n": "2"}]},
      "mark": {"type": "text", "fontSize": 11, "font": "DejaVu Serif", "baseline": "middle", "align": "center"},
      "encoding": {
        "y": {"datum": 4146.9, "type": "quantitative", "scale": {"domain": [3365.4, 4146.9], "nice": false, "zero": false}, "axis": null},
        "text": {"field": "n"},
        "color": {"value": "#2a3f5f"}
      }
    }
  ],
  "resolve": {"scale": {"y": "independent"}}
},
{
  "width": 833, "height": 120,
  "encoding": {
    "x": {"field": "t", "type": "temporal",
      "scale": {"nice": false, "padding": 0, "domain": [{"year": 2021, "month": 12, "date": 6, "hours": 8, "minutes": 56, "seconds": 40}, {"year": 2021, "month": 12, "date": 6, "hours": 15, "minutes": 32, "seconds": 25}]},
      "axis": null},
    "color": {"condition": {"test": "datum.c > datum.o", "value": "#ff0000"}, "value": "#0000ff"}
  },
  "layer": [
    {
      "mark": {"type": "bar", "width": 1.6, "opacity": 0.25},
      "encoding": {
        "y": {"field": "v", "type": "quantitative", "scale": {"domain": [0, 319500], "nice": false}, "axis": null}
      }
    },
    {
      "mark": {"type": "rule", "strokeWidth": 1.8},
      "encoding": {
        "y": {"field": "l", "type": "quantitative", "scale": {"domain": [3365.4, 4146.9], "nice": false, "zero": false}, "axis": null},
        "y2": {"field": "h"}
      }
    },
    {
      "mark": {"type": "rule", "strokeWidth": 2.8, "strokeCap": "square"},
      "encoding": {
        "y": {"field": "o", "type": "quantitative", "scale": {"domain": [3365.4, 4146.9], "nice": false, "zero": false}, "axis": null},
        "y2": {"field": "c"}
      }
    }
  ],
  "resolve": {"scale": {"y": "independent"}}
}
]
}
